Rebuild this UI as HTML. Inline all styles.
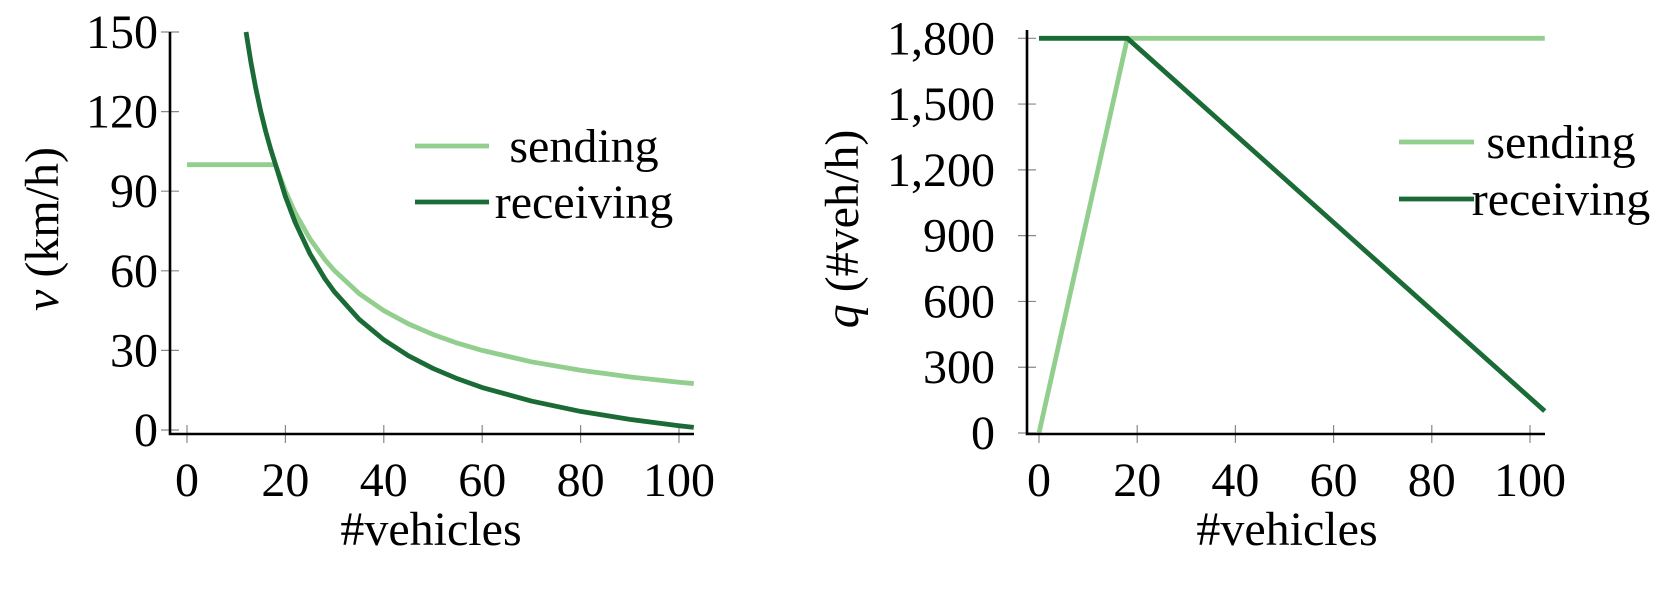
<!DOCTYPE html>
<html><head><meta charset="utf-8"><style>
html,body{margin:0;padding:0;background:#fff;}
svg{display:block;font-family:"Liberation Serif",serif;}
</style></head><body>
<svg id="c" width="1668" height="596" viewBox="0 0 1668 596"></svg>
<script>
// ---- left chart data (speed) ----
const vTicksX = [0,20,40,60,80,100];
const vTicksY = [0,30,60,90,120,150];
const vSendX = [0,18,20,22,25,28,30,35,40,45,50,55,60,70,80,90,100,103];
const vSendY = [100,100,90,81.8,72,64.3,60,51.4,45,40,36,32.7,30,25.7,22.5,20,18,17.5];
const vRecvX = [12,13,14,15,16,17,18,20,22,25,28,30,35,40,45,50,55,60,70,80,90,100,103];
const vRecvY = [150,138.5,128.6,120,112.5,105.9,100,88,78.2,66.4,57.1,52,41.7,34,28,23.2,19.3,16,10.9,7,4,1.6,0.97];
// ---- right chart data (flow) ----
const qTicksX = [0,20,40,60,80,100];
const qTicksY = [0,300,600,900,1200,1500,1800];
const qTickLabels = ["0","300","600","900","1,200","1,500","1,800"];
const qSendX = [0,18,103];
const qSendY = [0,1800,1800];
const qRecvX = [0,18,103];
const qRecvY = [1800,1800,100];

const NS="http://www.w3.org/2000/svg";
const svg=document.getElementById('c');
function mk(tag,attrs,parent){const e=document.createElementNS(NS,tag);for(const k in attrs)e.setAttribute(k,attrs[k]);(parent||svg).appendChild(e);return e;}
const LIGHT="#92cf8f", DARK="#1b6b36";

function chart(cfg){
  const g=mk('g',{});
  
  
  const sx=v=>cfg.x0+(v-0)*(cfg.x100-cfg.x0)/100;
  const sy=v=>cfg.yb+(v)*(cfg.yt-cfg.yb)/cfg.ymax;
  cfg.tx.forEach(t=>{
    const l=mk('line',{x1:sx(t),x2:sx(t),y1:cfg.axY-9,y2:cfg.axY+9,stroke:'#888','stroke-width':1.2},g);
    
    
    const tx=mk('text',{x:sx(t),y:496,'font-size':48,'text-anchor':'middle',fill:'#000'},g);
    tx.textContent=t;
    
    
  });
  cfg.ty.forEach((t,i)=>{
    const l=mk('line',{x1:cfg.axX-9,x2:cfg.axX+9,y1:sy(t),y2:sy(t),stroke:'#888','stroke-width':1.2},g);
    
    
    const tx=mk('text',{x:cfg.lblX,y:sy(t)+16,'font-size':48,'text-anchor':'end',fill:'#000'},g);
    tx.textContent=cfg.tl?cfg.tl[i]:t;
    
    
  });
  const series=[[cfg.sx,cfg.sy,LIGHT,'sending-line'],[cfg.rx,cfg.ry,DARK,'receiving-line']];
  series.forEach(s=>{
    const pts=s[0].map((x,i)=>sx(x)+','+sy(s[1][i])).join(' ');
    const p=mk('polyline',{points:pts,fill:'none',stroke:s[2],'stroke-width':4.8,'stroke-linejoin':'round'},g);
    
    
  });
  const ax=mk('polyline',{points:`${cfg.axX},${cfg.axTop} ${cfg.axX},${cfg.axY} ${cfg.axRight},${cfg.axY}`,fill:'none',stroke:'#000','stroke-width':2.6},g);
  
  
  const xt=mk('text',{x:cfg.xtX,y:545,'font-size':48,'text-anchor':'middle'},g);
  xt.textContent='#vehicles';
  
  
  const yt=mk('text',{x:0,y:0,'font-size':48,'text-anchor':'middle',transform:`translate(${cfg.ytX},229) rotate(-90)`},g);
  yt.innerHTML=cfg.ytitle;
  
  
  const lg=mk('g',{},g);
  
  
  [[LIGHT,'sending',cfg.leg.y1,cfg.leg.tx1],[DARK,'receiving',cfg.leg.y2,cfg.leg.tx2]].forEach(e=>{
    const en=mk('g',{},lg);
    
    
    mk('line',{x1:cfg.leg.lx1,x2:cfg.leg.lx2,y1:e[2],y2:e[2],stroke:e[0],'stroke-width':4.8},en);
    const t=mk('text',{x:e[3],y:e[2]+16,'font-size':48,'text-anchor':'middle'},en);
    t.textContent=e[1];
  });
}
chart({name:'speed-chart',x0:187,x100:679,yb:430,yt:32,ymax:150,axX:170,axY:434,axTop:32,axRight:694,lblX:158,
  tx:vTicksX,ty:vTicksY,sx:vSendX,sy:vSendY,rx:vRecvX,ry:vRecvY,xtX:431,ytX:58,
  ytitle:'<tspan font-style="italic">v</tspan> (km/h)',
  leg:{lx1:415,lx2:489,y1:146,y2:202,tx1:584,tx2:584}});
chart({name:'flow-chart',x0:1039,x100:1530,yb:433,yt:38.3,ymax:1800,axX:1027,axY:434,axTop:30,axRight:1545,lblX:995,
  tx:qTicksX,ty:qTicksY,tl:qTickLabels,sx:qSendX,sy:qSendY,rx:qRecvX,ry:qRecvY,xtX:1287,ytX:858,
  ytitle:'<tspan font-style="italic">q</tspan> (#veh/h)',
  leg:{lx1:1399,lx2:1474,y1:142,y2:199,tx1:1561,tx2:1561}});
</script>
</body></html>
